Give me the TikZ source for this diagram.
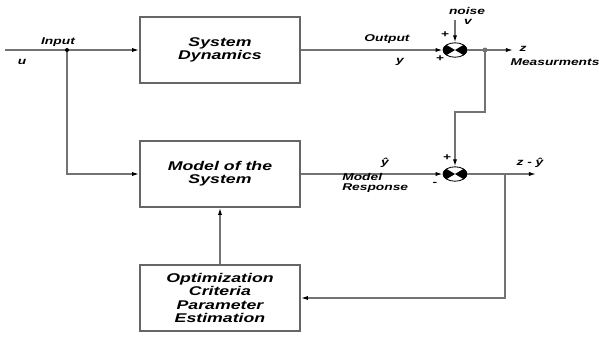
\documentclass[tikz,border=0pt]{standalone}
\usepackage{fontspec}
\setmainfont{Liberation Sans}[FakeStretch=1.4]
\usetikzlibrary{shapes.geometric,arrows.meta}

\begin{document}
\begin{tikzpicture}[x=0.025cm,y=-0.025cm,
    >={Latex[length=5pt,width=3pt,black]},
    conn/.style={draw=black!55,line width=0.9pt},
    blk/.style={draw=black!60,line width=1.3pt,fill=white,minimum width=4cm,minimum height=1.65cm,
      align=center,font=\fontsize{9}{9.5}\selectfont\bfseries\itshape},
    sumj/.style={ellipse,draw=black,line width=0.6pt,minimum width=0.6cm,minimum height=0.36cm,inner sep=0pt,
      path picture={\fill[black] (path picture bounding box.north west) -- (path picture bounding box.center) -- (path picture bounding box.south west) -- cycle;
        \fill[black] (path picture bounding box.north east) -- (path picture bounding box.center) -- (path picture bounding box.south east) -- cycle;}},
    lbl/.style={font=\fontsize{7}{7.5}\selectfont\bfseries\itshape,inner sep=0pt}]
  \useasboundingbox (0,0) rectangle (599,337);
  % blocks and summing points
  \node[blk] (sys) at (220,50) {System\\Dynamics};
  \node[blk] (model) at (220,174) {Model of the\\System};
  \node[blk] (opt) at (220,298) {Optimization\\Criteria\\Parameter\\Estimation};
  \node[sumj] (sum1) at (455,50) {};
  \node[sumj] (sum2) at (455,174) {};
  \coordinate (u) at (5,50);
  \coordinate (split) at (67,50);
  \coordinate (noise) at (455,20);
  \coordinate (tap) at (485,50);
  \coordinate (z) at (513,50);
  \coordinate (branch) at (505,174);
  \coordinate (err) at (536,174);
  % signals
  \draw[conn,->] (u) -- (sys.west);
  \draw[conn,->] (split) |- (model.west);
  \draw[conn,->] (sys.east) -- (sum1.west);
  \draw[conn,->] (noise) -- (sum1.north);
  \draw[conn,->] (sum1.east) -- (z);
  \draw[conn,->] (tap) -- ++(0,62) -| (sum2.north);
  \draw[conn,->] (model.east) -- (sum2.west);
  \draw[conn,->] (sum2.east) -- (err);
  \draw[conn,->] (branch) |- (opt.east);
  \draw[conn,->] (opt.north) -- (model.south);
  \fill (split) circle (2);
  \fill[black!55] (tap) circle (2.5);
  % labels
  \node[lbl] (inlbl) at (58,42) {Input};
  \node[lbl] (ulbl) at (22,62) {u};
  \node[lbl] (outlbl) at (387,39) {Output};
  \node[lbl] (ylbl) at (400,62) {y};
  \node[lbl] (noiselbl) at (467,11) {noise};
  \node[lbl] (vlbl) at (468,22) {v};
  \node[lbl] (p1) at (445,35) {+};
  \node[lbl] (p2) at (440,59) {+};
  \node[lbl] (zlbl) at (523,49) {z};
  \node[lbl] (measlbl) at (555,62) {Measurments};
  \node[lbl] (yhatlbl) at (385,163) {ŷ};
  \node[lbl,align=left,anchor=west] (resplbl) at (342,183) {Model\\Response};
  \node[lbl] (p3) at (447,158) {+};
  \node[lbl] (m1) at (435,184) {-};
  \node[lbl] (errlbl) at (530,163) {z - ŷ};
\end{tikzpicture}
\end{document}
